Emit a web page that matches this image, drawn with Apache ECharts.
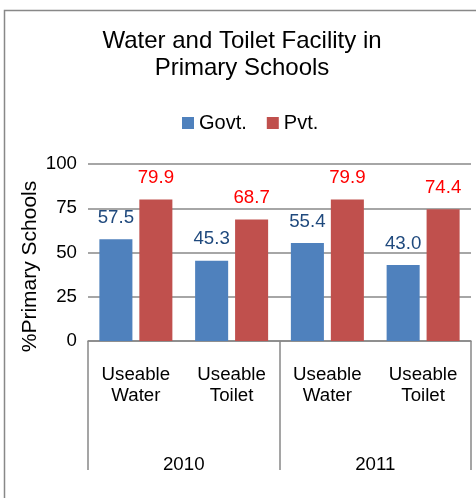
<!DOCTYPE html>
<html>
<head>
<meta charset="utf-8">
<script src="https://cdn.jsdelivr.net/npm/echarts@6/dist/echarts.min.js"></script>
<style>html,body{margin:0;padding:0;background:#fff;}#c{width:476px;height:498px;}</style>
</head>
<body>
<div id="c"></div>
<script>
const categories = ['Useable\nWater', 'Useable\nToilet', 'Useable\nWater', 'Useable\nToilet'];
const years = ['2010', '2011'];
const govt = [57.5, 45.3, 55.4, 43.0];
const pvt = [79.9, 68.7, 79.9, 74.4];
const yTicks = { min: 0, max: 100, interval: 25 };
const yAxisTitle = '%Primary Schools';

const FONT = 'Liberation Sans, Arial, sans-serif';
const GRAY = '#888888';
const chart = echarts.init(document.getElementById('c'), null, { renderer: 'canvas' });
chart.setOption({
  backgroundColor: '#ffffff',
  animation: false,
  graphic: [{
    type: 'rect', silent: true, z: -1,
    shape: { x: 4.5, y: 10.5, width: 480, height: 500 },
    style: { fill: 'none', stroke: GRAY, lineWidth: 1.5 }
  }, {
    type: 'text', silent: true,
    x: 30, y: 266.5, rotation: Math.PI / 2,
    style: { text: yAxisTitle, font: '21px ' + FONT, fill: '#000', align: 'center', verticalAlign: 'middle' }
  }],
  title: {
    text: 'Water and Toilet Facility in\nPrimary Schools',
    left: 242, textAlign: 'center', top: 28, padding: 0,
    textStyle: { fontFamily: FONT, fontSize: 24, fontWeight: 'normal', color: '#000', lineHeight: 27 }
  },
  legend: {
    data: ['Govt.', 'Pvt.'],
    left: 182, top: 113, padding: 0, itemGap: 20,
    itemWidth: 12, itemHeight: 12, icon: 'rect',
    textStyle: { fontFamily: FONT, fontSize: 20, color: '#000' }
  },
  grid: { left: 88, right: 5, top: 164, bottom: 157, containLabel: false },
  xAxis: [{
    type: 'category', data: categories,
    axisLine: { show: true, lineStyle: { color: GRAY, width: 1.5 } },
    axisTick: { show: false },
    axisLabel: { margin: 23, fontFamily: FONT, fontSize: 18.7, color: '#000', lineHeight: 21.5, interval: 0 }
  }, {
    type: 'category', data: years, position: 'bottom',
    axisLine: { show: false },
    axisTick: { show: true, length: 129, lineStyle: { color: GRAY, width: 1.5 } },
    axisLabel: { margin: 114, fontFamily: FONT, fontSize: 18.7, color: '#000' }
  }],
  yAxis: {
    type: 'value', min: yTicks.min, max: yTicks.max, interval: yTicks.interval,
    axisLine: { show: false }, axisTick: { show: false },
    axisLabel: { margin: 11, fontFamily: FONT, fontSize: 18.7, color: '#000' },
    splitLine: { lineStyle: { color: GRAY, width: 1.5 } }
  },
  series: [{
    name: 'Govt.', type: 'bar', data: govt, xAxisIndex: 0,
    barWidth: '34.5%', barGap: '21%',
    itemStyle: { color: '#4F81BD' },
    label: { show: true, position: 'top', distance: 12, formatter: p => p.value.toFixed(1),
      fontFamily: FONT, fontSize: 18.7, color: '#1F497D' }
  }, {
    name: 'Pvt.', type: 'bar', data: pvt, xAxisIndex: 0,
    barWidth: '34.5%', barGap: '21%',
    itemStyle: { color: '#C0504D' },
    label: { show: true, position: 'top', distance: 12, formatter: p => p.value.toFixed(1),
      fontFamily: FONT, fontSize: 18.7, color: '#FF0000' }
  }]
});
</script>
</body>
</html>
